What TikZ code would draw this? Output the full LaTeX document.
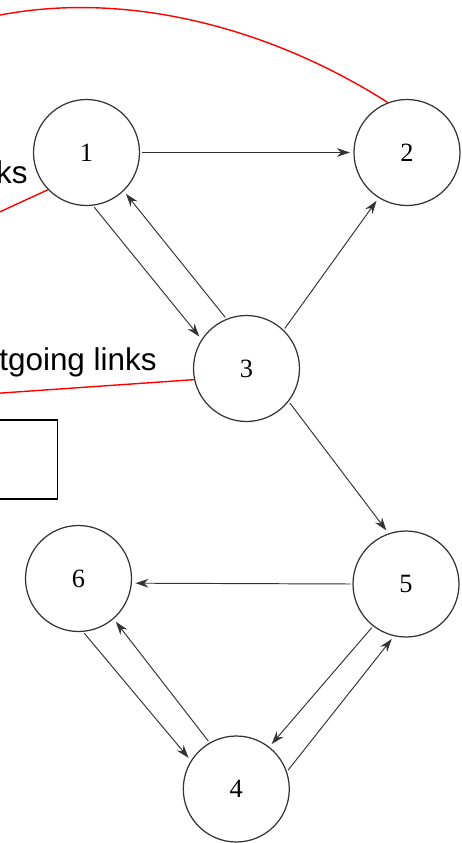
\documentclass[tikz,border=0pt]{standalone}
\usepackage{fontspec}
\setmainfont{Liberation Serif}
\setsansfont{Liberation Sans}
\usetikzlibrary{arrows.meta, positioning}

\begin{document}
\begin{tikzpicture}[x=0.02cm, y=-0.02cm,
    vtx/.style={circle, draw=black!80, line width=0.7pt, minimum size=2.12cm, inner sep=0pt, font=\fontsize{15}{15}\selectfont},
    link/.style={draw=black!80, line width=0.55pt, shorten >=2pt, shorten <=1pt, -{Stealth[length=7.5pt, width=5pt, inset=2.5pt]}},
    note/.style={red, line width=0.8pt},
    lbl/.style={font=\sffamily\fontsize{17.9}{20}\selectfont, inner sep=0pt, anchor=base east}]
    \clip (0, 0) rectangle (461, 843);

    % 节点
    \node[vtx] (n1) at (86.5, 152.5) {1};
    \node[vtx] (n2) at (407, 152.5) {2};
    \node[vtx] (n3) at (246.5, 368.5) {3};
    \node[vtx] (n5) at (406, 584) {5};
    \node[vtx] (n6) at (78.5, 578.5) {6};
    \node[vtx] (n4) at (236.3, 789) {4};

    % 链接
    \draw[link] (n1.0) -- (n2.180);
    \draw[link] (n1.-83) -- (n3.147);
    \draw[link] (n3.112) -- (n1.-46);
    \draw[link] (n3.46) -- (n2.-122);
    \draw[link] (n3.-38) -- (n5.109);
    \draw[link] (n5.180) -- (n6.-5);
    \draw[link] (n6.-85) -- (n4.148);
    \draw[link] (n4.120) -- (n6.-49);
    \draw[link] (n5.-128) -- (n4.52);
    \draw[link] (n4.19) -- (n5.-103);

    % 标注
    \coordinate (top1) at (-40, 25);
    \coordinate (in1) at (-20, 221);
    \coordinate (out1) at (-20, 394.5);
    \draw[note] (n2.111) .. controls (250, 15) and (90, -15) .. (top1);
    \draw[note] (n1.224) -- (in1);
    \draw[note] (n3.192) -- (out1);
    \node[lbl] (txin) at (28, 183) {ks};
    \node[lbl] (txout) at (157, 370) {tgoing links};
    \draw[line width=1.1pt] (-20, 420) rectangle (57.5, 499);
\end{tikzpicture}
\end{document}
